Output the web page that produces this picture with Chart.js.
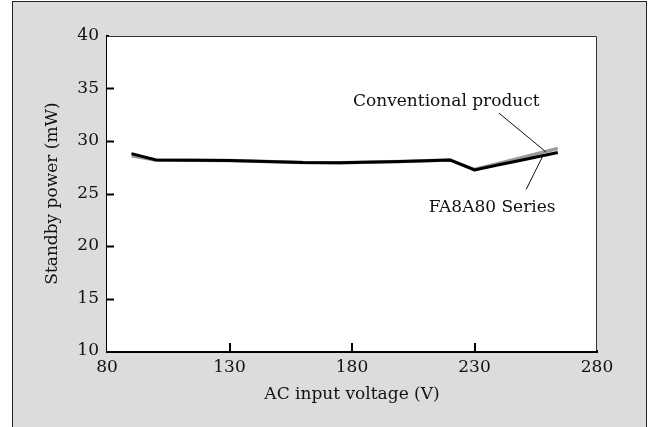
<!DOCTYPE html>
<html>
<head>
<meta charset="utf-8">
<script src="https://cdn.jsdelivr.net/npm/chart.js@4"></script>
<style>
  html, body { margin: 0; padding: 0; background: #ffffff; }
  #wrap { position: relative; width: 652px; height: 427px; overflow: hidden; }
  #panel { position: absolute; left: 12px; top: 1px; width: 635px; height: 440px;
           background: #dcdcdc; border: 1px solid #222; box-sizing: border-box; }
  #c { position: absolute; left: 0; top: 0; }
</style>
</head>
<body>
<div id="wrap">
  <div id="panel"></div>
  <canvas id="c" width="652" height="427"></canvas>
</div>
<script>
// ---- data ----
const voltages     = [90, 100, 130, 160, 175, 200, 220, 230, 240, 250, 264];
const fa8a80       = [28.8, 28.2, 28.15, 27.95, 27.93, 28.05, 28.2, 27.25, 27.73, 28.22, 28.9];
const conventional = [28.6, 28.2, 28.15, 27.95, 27.93, 28.05, 28.2, 27.28, 27.85, 28.45, 29.3];
const xTicks = [80, 130, 180, 230, 280];
const yTicks = [10, 15, 20, 25, 30, 35, 40];
const seriesNames = ['Conventional product', 'FA8A80 Series'];
const xTitle = 'AC input voltage (V)';
const yTitle = 'Standby power (mW)';

const FONT = '"DejaVu Serif", "Liberation Serif", serif';
const FS = 17;

function pts(ys) { return voltages.map((v, i) => ({ x: v, y: ys[i] })); }

const framePlugin = {
  id: 'frame',
  beforeDatasetsDraw(chart) {
    const { ctx, chartArea: a } = chart;
    ctx.save();
    ctx.fillStyle = '#ffffff';
    ctx.fillRect(a.left, a.top, a.right - a.left, a.bottom - a.top);
    ctx.strokeStyle = '#333';
    ctx.lineWidth = 1;
    ctx.beginPath();
    ctx.moveTo(a.left, a.top + 0.5);
    ctx.lineTo(a.right - 0.5, a.top + 0.5);
    ctx.lineTo(a.right - 0.5, a.bottom);
    ctx.stroke();
    ctx.restore();
  },
  afterDraw(chart) {
    const { ctx, chartArea: a, scales } = chart;
    const xs = scales.x, ys = scales.y;
    ctx.save();
    ctx.strokeStyle = '#000';
    ctx.lineWidth = 2;
    // inward ticks
    yTicks.slice(1, -1).forEach(v => {
      const y = Math.round(ys.getPixelForValue(v)) + 0.5;
      ctx.beginPath(); ctx.moveTo(a.left, y); ctx.lineTo(a.left + 7, y); ctx.stroke();
    });
    xTicks.slice(1, -1).forEach(v => {
      const x = Math.round(xs.getPixelForValue(v));
      ctx.beginPath(); ctx.moveTo(x, a.bottom); ctx.lineTo(x, a.bottom - 8); ctx.stroke();
    });
    // annotations
    ctx.lineWidth = 1;
    ctx.strokeStyle = '#111';
    ctx.beginPath();
    ctx.moveTo(xs.getPixelForValue(240.0), ys.getPixelForValue(32.65));
    ctx.lineTo(xs.getPixelForValue(259.2), ys.getPixelForValue(28.95));
    ctx.moveTo(xs.getPixelForValue(251.1), ys.getPixelForValue(25.39));
    ctx.lineTo(xs.getPixelForValue(258.0), ys.getPixelForValue(28.63));
    ctx.stroke();
    ctx.fillStyle = '#111';
    ctx.font = FS + 'px ' + FONT;
    ctx.textAlign = 'center';
    ctx.textBaseline = 'alphabetic';
    ctx.fillText(seriesNames[0], xs.getPixelForValue(218.5), ys.getPixelForValue(33.3));
    ctx.fillText(seriesNames[1], xs.getPixelForValue(237.2), ys.getPixelForValue(23.2));
    ctx.restore();
  }
};

new Chart(document.getElementById('c'), {
  type: 'line',
  data: {
    datasets: [
      { label: seriesNames[0], data: pts(conventional), borderColor: '#9a9a9a',
        borderWidth: 3.5, pointRadius: 0, tension: 0, order: 2 },
      { label: seriesNames[1], data: pts(fa8a80), borderColor: '#000000',
        borderWidth: 3, pointRadius: 0, tension: 0, order: 1 }
    ]
  },
  options: {
    responsive: false,
    animation: false,
    devicePixelRatio: 1,
    layout: { padding: { top: 36, right: 55, left: 0, bottom: 0 } },
    plugins: { legend: { display: false }, tooltip: { enabled: false } },
    scales: {
      x: {
        type: 'linear', min: 80, max: 280,
        afterBuildTicks(s) { s.ticks = xTicks.map(v => ({ value: v })); },
        afterFit(s) { s.height = 76; },
        grid: { display: false, drawTicks: false },
        border: { display: true, color: '#000', width: 3 },
        ticks: { color: '#111', font: { family: FONT, size: FS }, padding: 6, maxRotation: 0 },
        title: { display: true, text: xTitle, color: '#111',
                 font: { family: FONT, size: FS }, padding: { top: 0, bottom: 22 } }
      },
      y: {
        type: 'linear', min: 10, max: 40,
        afterBuildTicks(s) { s.ticks = yTicks.map(v => ({ value: v })); },
        afterFit(s) { s.width = 107; },
        grid: { display: false, drawTicks: false },
        border: { display: true, color: '#000', width: 3 },
        ticks: { color: '#111', font: { family: FONT, size: FS }, padding: 8 },
        title: { display: true, text: yTitle, color: '#111',
                 font: { family: FONT, size: FS }, padding: { top: 42, bottom: 0 } }
      }
    }
  },
  plugins: [framePlugin]
});
</script>
</body>
</html>
